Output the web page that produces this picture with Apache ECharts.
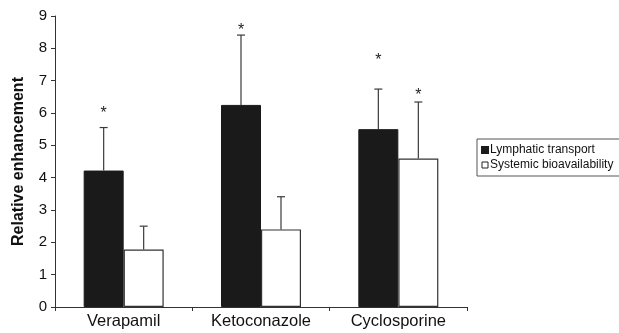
<!DOCTYPE html>
<html><head><meta charset="utf-8">
<script src="https://cdn.jsdelivr.net/npm/echarts@6/dist/echarts.min.js"></script>
<style>html,body{margin:0;padding:0;background:#fff}#c{width:619px;height:333px}</style>
</head><body><div id="c"></div>
<script>
const categories = ['Verapamil', 'Ketoconazole', 'Cyclosporine'];
const lymphatic = [4.22, 6.25, 5.5];
const lymphaticErr = [1.33, 2.16, 1.24];
const systemic = [1.78, 2.4, 4.59];
const systemicErr = [0.72, 1.01, 1.75];
// height (in axis units) of the significance asterisks; null = none
const lymphaticStar = [6.12, 8.66, 7.73];
const systemicStar = [null, null, 6.65];
const yTicks = [0, 1, 2, 3, 4, 5, 6, 7, 8, 9];

const BW = 40;
function errSeries(vals, errs, stars, off) {
  return {
    type: 'custom',
    z: 5,
    data: vals.map((v, i) => [i, v, errs[i], stars[i] == null ? -1 : stars[i]]),
    renderItem: function (params, api) {
      const i = api.value(0), v = api.value(1), e = api.value(2), s = api.value(3);
      const base = api.coord([i, v]);
      const top = api.coord([i, v + e]);
      const x = base[0] + off;
      const children = [
        { type: 'line', shape: { x1: x, y1: base[1], x2: x, y2: top[1] }, style: { stroke: '#3a3a3a', lineWidth: 1.2 } },
        { type: 'line', shape: { x1: x - 4, y1: top[1], x2: x + 4, y2: top[1] }, style: { stroke: '#3a3a3a', lineWidth: 1.2 } }
      ];
      if (s >= 0) {
        const sp = api.coord([i, s]);
        children.push({ type: 'text', style: { text: '*', x: x, y: sp[1] + 4, align: 'center', verticalAlign: 'middle', font: '16px "Liberation Sans", Arial, sans-serif', fill: '#222' } });
      }
      return { type: 'group', children: children };
    }
  };
}

const chart = echarts.init(document.getElementById('c'), null, { renderer: 'canvas' });
chart.setOption({
  animation: false,
  backgroundColor: '#fff',
  textStyle: { fontFamily: '"Liberation Sans", Arial, sans-serif' },
  grid: { left: 55, right: 152, top: 16, bottom: 26 },
  legend: {
    orient: 'vertical', left: 477, top: 139,
    borderColor: '#555', borderWidth: 1, padding: [5, 8, 5, 4],
    itemWidth: 6, itemHeight: 6, itemGap: 3,
    textStyle: { fontSize: 12, color: '#111', padding: [0, 0, 0, -3] },
    data: [
      { name: 'Lymphatic transport', icon: 'rect', itemStyle: { color: '#1a1a1a', borderColor: '#1a1a1a' } },
      { name: 'Systemic bioavailability', icon: 'rect', itemStyle: { color: '#fff', borderColor: '#222', borderWidth: 1 } }
    ]
  },
  xAxis: {
    type: 'category', data: categories,
    axisLine: { lineStyle: { color: '#333' } },
    axisTick: { show: true, length: 4, lineStyle: { color: '#333' } },
    axisLabel: { fontSize: 16.5, color: '#111', margin: 6 }
  },
  yAxis: {
    type: 'value', min: 0, max: 9, interval: 1,
    name: 'Relative enhancement', nameLocation: 'middle', nameGap: 28,
    nameTextStyle: { fontSize: 16, fontWeight: 'bold', color: '#111' },
    axisLine: { show: true, lineStyle: { color: '#333' } },
    axisTick: { show: true, length: 4, lineStyle: { color: '#333' } },
    splitLine: { show: false },
    axisLabel: { fontSize: 15, color: '#111', margin: 8, formatter: v => yTicks.includes(v) ? String(v) : '' }
  },
  series: [
    { name: 'Lymphatic transport', type: 'bar', data: lymphatic, barWidth: BW, barGap: '0%',
      itemStyle: { color: '#1a1a1a', borderColor: '#1a1a1a', borderWidth: 1 } },
    { name: 'Systemic bioavailability', type: 'bar', data: systemic, barWidth: BW, barGap: '0%',
      itemStyle: { color: '#fff', borderColor: '#333', borderWidth: 1.2 } },
    errSeries(lymphatic, lymphaticErr, lymphaticStar, -BW / 2),
    errSeries(systemic, systemicErr, systemicStar, BW / 2)
  ]
});
</script></body></html>
